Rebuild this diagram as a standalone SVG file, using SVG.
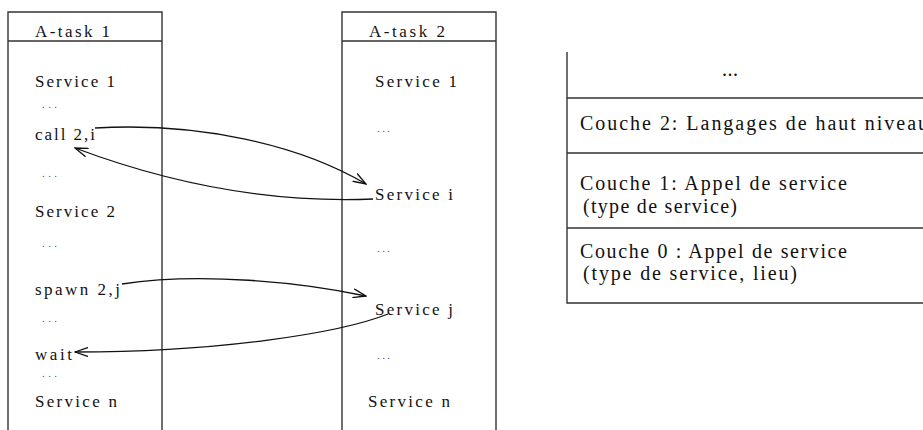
<svg xmlns="http://www.w3.org/2000/svg" width="923" height="430" viewBox="0 0 923 430">
<style>
.box{fill:none;stroke:#333;stroke-width:1.4}
.t{font-size:17px;fill:#111}
.tb{font-size:20px;fill:#111}
.d{font-size:11px;fill:#555}
.c{fill:none;stroke:#111;stroke-width:1.3}
</style>
<defs>
<marker id="ah" viewBox="0 0 14 10" refX="13" refY="5" markerWidth="14" markerHeight="10" markerUnits="userSpaceOnUse" orient="auto">
<path d="M0,0.5 L13,5 L0,9.5" fill="none" stroke="#111" stroke-width="1.3"/>
</marker>
</defs>
<rect width="923" height="430" fill="#fff"/>
<g id="atask1" font-family="Liberation Serif, Times New Roman, serif">
<path class="box" d="M8,430 V12 H162 V430 M8,41 H162"/>
<text class="t" x="35" y="37" textLength="75" lengthAdjust="spacing">A-task 1</text>
<text class="t" x="35" y="87" textLength="80" lengthAdjust="spacing">Service 1</text>
<text class="d" x="42" y="108" textLength="15" lengthAdjust="spacing">...</text>
<text class="t" x="35" y="140" textLength="60" lengthAdjust="spacing">call 2,i</text>
<text class="d" x="42" y="177" textLength="15" lengthAdjust="spacing">...</text>
<text class="t" x="35" y="217" textLength="80" lengthAdjust="spacing">Service 2</text>
<text class="d" x="42" y="247" textLength="15" lengthAdjust="spacing">...</text>
<text class="t" x="35" y="295" textLength="85" lengthAdjust="spacing">spawn 2,j</text>
<text class="d" x="42" y="322" textLength="15" lengthAdjust="spacing">...</text>
<text class="t" x="35" y="360" textLength="37" lengthAdjust="spacing">wait</text>
<text class="d" x="42" y="377" textLength="15" lengthAdjust="spacing">...</text>
<text class="t" x="35" y="407" textLength="82" lengthAdjust="spacing">Service n</text>
</g>
<g id="atask2" font-family="Liberation Serif, Times New Roman, serif">
<path class="box" d="M342,430 V12 H496 V430 M342,41 H496"/>
<text class="t" x="369" y="37" textLength="76" lengthAdjust="spacing">A-task 2</text>
<text class="t" x="375" y="87" textLength="82" lengthAdjust="spacing">Service 1</text>
<text class="d" x="377" y="132" textLength="13" lengthAdjust="spacing">...</text>
<text class="t" x="375" y="200" textLength="78" lengthAdjust="spacing">Service i</text>
<text class="d" x="377" y="252" textLength="13" lengthAdjust="spacing">...</text>
<text class="t" x="375" y="315" textLength="78" lengthAdjust="spacing">Service j</text>
<text class="d" x="377" y="359" textLength="13" lengthAdjust="spacing">...</text>
<text class="t" x="368" y="407" textLength="82" lengthAdjust="spacing">Service n</text>
</g>
<g id="layers" font-family="Liberation Serif, Times New Roman, serif">
<path class="box" d="M567,52 V303 H923 M567,98 H923 M567,153 H923 M567,228 H923" stroke="#111"/>
<text class="tb" x="722" y="76" textLength="16" lengthAdjust="spacing">...</text>
<text class="tb" x="580" y="130" textLength="348" lengthAdjust="spacing">Couche 2: Langages de haut niveau</text>
<text class="tb" x="580" y="190" textLength="267" lengthAdjust="spacing">Couche 1: Appel de service</text>
<text class="tb" x="583" y="213" textLength="154" lengthAdjust="spacing">(type de service)</text>
<text class="tb" x="580" y="258" textLength="267" lengthAdjust="spacing">Couche 0 : Appel de service</text>
<text class="tb" x="583" y="280" textLength="214" lengthAdjust="spacing">(type de service, lieu)</text>
</g>
<g id="connectors">
<path class="c" d="M95,128 C200,122 300,145 366,184" marker-end="url(#ah)"/>
<path class="c" d="M373,199 C300,202 200,195 75,148" marker-end="url(#ah)"/>
<path class="c" d="M122,284 C200,272 300,282 366,296" marker-end="url(#ah)"/>
<path class="c" d="M388,314 C340,333 220,352 75,352" marker-end="url(#ah)"/>
</g>
</svg>
